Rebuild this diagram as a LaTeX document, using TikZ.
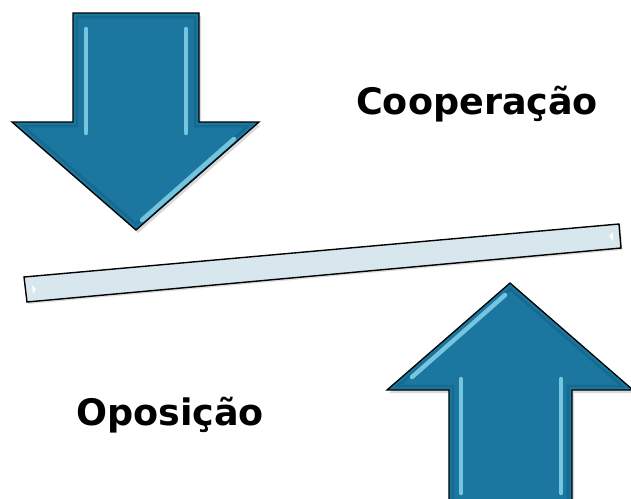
\documentclass[tikz,border=0pt]{standalone}
\usepackage{fontspec}
\newfontfamily\labelfont{DejaVu Sans}
\usetikzlibrary{shadows}
\definecolor{arrowblue}{RGB}{27,119,160}
\definecolor{arrowrim}{RGB}{16,84,118}
\definecolor{glint}{RGB}{150,225,245}
\definecolor{barfill}{RGB}{215,231,237}
\tikzset{
  bigarrow/.style={fill=arrowblue,draw=black,line width=1.3pt,line join=miter,
    drop shadow={opacity=0.3,shadow xshift=2pt,shadow yshift=-3pt}},
  glintline/.style={glint,line width=4.5pt,line cap=round,opacity=0.75},
  word/.style={inner sep=0pt,font=\labelfont\bfseries\fontsize{36.5}{40}\selectfont}
}
\begin{document}
\begin{tikzpicture}[x=1pt,y=-1pt]
            \useasboundingbox (0,0) rectangle (631,498);
            % arrow pointing down
            \draw[bigarrow] (73,13)--(199,13)--(199,122)--(259,122)--(136,230)--(12,122)--(73,122)--cycle;
            \draw[arrowrim,line width=2.5pt,opacity=0.4] (77,17)--(195,17)--(195,126)--(248,126)--(136,224)--(23,126)--(77,126)--cycle;
            \draw[glintline] (86,29)--(86,133);
            \draw[glintline] (186,29)--(186,133);
            \draw[glintline] (234,139)--(142,220);
            % arrow pointing up
            \draw[bigarrow] (510,283)--(633,390)--(572,390)--(572,505)--(449,505)--(449,390)--(387,390)--cycle;
            \draw[arrowrim,line width=2.5pt,opacity=0.4] (510,289)--(622,386)--(568,386)--(568,505)--(453,505)--(453,386)--(398,386)--cycle;
            \draw[glintline] (461,379)--(461,493);
            \draw[glintline] (561,379)--(561,493);
            \draw[glintline] (505,295)--(412,377);
            % the bar
            \draw[fill=barfill,line width=1.4pt,
              drop shadow={opacity=0.25,shadow xshift=1.5pt,shadow yshift=-2pt}]
              (24,277)--(619,224)--(621,248)--(27,302)--cycle;
            \fill[white] (32,285)--(36,289)--(33,294)--cycle;
            \fill[white] (613,232)--(609,236)--(613,241)--cycle;
            % labels
            \node[word,anchor=base west] (coop) at (356,114) {Cooperação};
            \node[word,anchor=base west] (opos) at (76,425) {Oposição};
        \end{tikzpicture}
\end{document}
